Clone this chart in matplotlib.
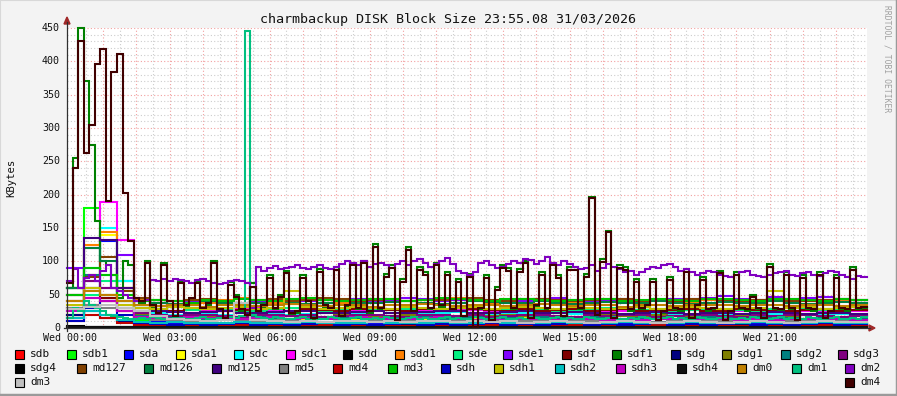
import numpy as np
import matplotlib
matplotlib.use("Agg")
from matplotlib import pyplot as plt
from matplotlib.patches import Rectangle, Polygon
from matplotlib.lines import Line2D

W, H = 897, 396
MONO = "DejaVu Sans Mono"

title = "charmbackup DISK Block Size 23:55.08 31/03/2026"
ylabel = "KBytes"
tick_labels = ["Wed 00:00", "Wed 03:00", "Wed 06:00", "Wed 09:00",
               "Wed 12:00", "Wed 15:00", "Wed 18:00", "Wed 21:00"]
tick_minutes = [5, 185, 365, 545, 725, 905, 1085, 1265]  # minutes after 23:55

# 30-minute samples (48 per day) for the quieter devices
sdb = [20, 35, 40, 25, 8, 5, 4, 3, 4, 5, 3, 4,
       5, 4, 3, 4, 5, 4, 3, 4, 5, 6, 4, 3,
       4, 5, 4, 3, 5, 4, 3, 4, 5, 4, 3, 4,
       5, 4, 3, 4, 5, 4, 3, 4, 5, 4, 3, 4]
sdb1 = [60, 180, 80, 40, 12, 8, 7, 6, 8, 7, 6, 8,
        7, 6, 8, 7, 6, 7, 8, 6, 7, 8, 6, 7,
        8, 6, 7, 8, 7, 6, 8, 7, 6, 7, 8, 6,
        7, 8, 6, 7, 8, 7, 6, 8, 7, 6, 7, 8]
sda = [15, 60, 130, 70, 20, 10, 8, 6, 7, 6, 8, 5,
       6, 7, 6, 5, 6, 7, 6, 5, 6, 7, 8, 6,
       5, 6, 7, 6, 5, 6, 7, 6, 5, 6, 7, 6,
       5, 6, 7, 6, 5, 6, 7, 6, 5, 6, 7, 6]
sda1 = [20, 80, 140, 60, 25, 15, 14, 12, 13, 15, 14, 12,
        16, 14, 13, 15, 16, 14, 12, 13, 15, 14, 16, 15,
        13, 14, 15, 16, 14, 13, 15, 14, 13, 12, 14, 15,
        13, 14, 12, 13, 14, 15, 13, 12, 14, 13, 12, 14]
sdc = [25, 90, 150, 70, 30, 22, 20, 21, 22, 20, 23, 21,
       22, 20, 21, 23, 22, 21, 20, 22, 23, 21, 22, 24,
       22, 20, 21, 22, 23, 22, 21, 20, 22, 21, 20, 22,
       21, 20, 19, 21, 20, 22, 21, 20, 19, 20, 21, 20]
sdc1 = [30, 120, 189, 132, 45, 28, 26, 27, 25, 26, 28, 30,
        27, 26, 28, 27, 26, 25, 27, 28, 26, 27, 28, 29,
        27, 26, 25, 27, 28, 26, 25, 27, 26, 25, 24, 26,
        25, 27, 26, 24, 25, 26, 24, 25, 26, 25, 24, 25]
sdd = [3, 2, 2, 1, 1, 1, 2, 1, 1, 1, 2, 1,
       1, 1, 2, 1, 1, 1, 2, 1, 1, 1, 2, 1,
       1, 1, 2, 1, 1, 1, 2, 1, 1, 1, 2, 1,
       1, 1, 2, 1, 1, 1, 2, 1, 1, 1, 2, 1]
sdd1 = [40, 125, 144, 60, 42, 38, 40, 35, 38, 42, 45, 40,
        38, 36, 40, 42, 38, 40, 44, 42, 40, 38, 42, 45,
        40, 38, 42, 40, 44, 42, 38, 40, 42, 38, 40, 42,
        40, 38, 42, 40, 38, 42, 40, 38, 40, 42, 40, 38]
sde = [20, 50, 70, 40, 30, 28, 25, 27, 30, 28, 26, 25,
       28, 30, 27, 26, 28, 30, 29, 27, 28, 30, 27, 26,
       28, 27, 29, 30, 28, 26, 27, 28, 30, 29, 27, 28,
       26, 27, 29, 28, 27, 26, 28, 30, 29, 27, 28, 27]
sde1 = [90, 70, 60, 110, 40, 38, 36, 40, 42, 38, 36, 40,
        42, 44, 40, 38, 42, 44, 40, 42, 45, 43, 40, 42,
        44, 40, 42, 41, 43, 45, 42, 40, 42, 44, 40, 42,
        44, 43, 45, 48, 44, 42, 46, 44, 45, 47, 44, 42]
sdf = [50, 60, 45, 40, 30, 28, 25, 30, 28, 26, 27, 28,
       30, 25, 28, 27, 26, 28, 30, 27, 25, 28, 26, 30,
       28, 27, 25, 28, 26, 27, 28, 25, 27, 28, 26, 25,
       27, 28, 26, 25, 28, 27, 26, 25, 27, 28, 26, 27]
sdg = [20, 25, 15, 10, 6, 5, 4, 5, 6, 5, 4, 5,
       6, 5, 4, 5, 7, 5, 4, 5, 6, 5, 4, 6,
       5, 5, 4, 5, 6, 5, 4, 5, 6, 5, 4, 5,
       6, 5, 4, 5, 6, 4, 4, 5, 6, 5, 4, 5]
sdg1 = [30, 45, 40, 25, 20, 18, 17, 19, 18, 16, 17, 18,
        20, 18, 17, 16, 19, 18, 17, 18, 19, 20, 17, 18,
        16, 18, 19, 18, 17, 18, 16, 18, 19, 18, 17, 19,
        18, 18, 17, 16, 19, 18, 17, 18, 19, 17, 17, 18]
sdg2 = [60, 80, 50, 30, 18, 16, 15, 16, 14, 15, 17, 16,
        15, 14, 16, 15, 17, 15, 14, 16, 15, 16, 14, 15,
        17, 16, 15, 14, 16, 15, 17, 16, 15, 14, 15, 16,
        14, 15, 16, 15, 14, 16, 15, 15, 14, 16, 15, 14]
sdg3 = [50, 70, 60, 35, 22, 19, 18, 20, 19, 18, 17, 19,
        20, 18, 19, 17, 18, 20, 19, 18, 17, 19, 20, 18,
        19, 17, 18, 19, 20, 18, 17, 19, 18, 20, 19, 17,
        18, 19, 20, 18, 17, 19, 18, 19, 20, 18, 17, 18]
sdg4 = [2, 1, 1, 1, 1, 1, 1, 1, 1, 1, 1, 1,
        1, 1, 1, 1, 1, 1, 1, 1, 1, 1, 1, 1,
        1, 1, 1, 1, 1, 1, 1, 1, 1, 1, 1, 1,
        1, 1, 1, 1, 1, 1, 1, 1, 1, 1, 1, 1]
md127 = [60, 77, 107, 55, 45, 42, 40, 42, 44, 40, 38, 42,
         44, 40, 42, 45, 43, 40, 42, 44, 40, 38, 42, 44,
         45, 42, 40, 43, 44, 42, 40, 42, 44, 43, 40, 42,
         41, 43, 44, 42, 40, 42, 43, 41, 40, 42, 43, 42]
md126 = [60, 120, 100, 60, 40, 38, 36, 38, 40, 38, 36, 38,
         40, 38, 36, 38, 40, 38, 37, 39, 40, 38, 36, 38,
         40, 39, 37, 38, 40, 38, 36, 38, 39, 37, 38, 40,
         38, 36, 38, 39, 37, 38, 40, 38, 36, 38, 39, 38]
md125 = [40, 135, 132, 60, 30, 25, 24, 22, 24, 25, 23, 22,
         24, 26, 25, 23, 22, 24, 25, 23, 22, 24, 26, 25,
         23, 22, 24, 25, 23, 22, 24, 23, 22, 21, 23, 24,
         22, 21, 23, 22, 21, 23, 24, 22, 21, 23, 22, 21]
md5 = [30, 35, 30, 25, 15, 12, 10, 11, 10, 12, 11, 10,
       12, 11, 10, 9, 11, 10, 12, 11, 10, 9, 11, 10,
       12, 11, 10, 11, 10, 9, 11, 10, 12, 11, 10, 9,
       11, 10, 12, 11, 10, 9, 11, 10, 12, 11, 10, 11]
md4 = [10, 20, 15, 8, 5, 4, 5, 4, 3, 4, 5, 4,
       3, 4, 5, 4, 3, 4, 5, 4, 3, 4, 5, 4,
       3, 4, 5, 4, 3, 4, 5, 4, 3, 4, 5, 4,
       3, 4, 5, 4, 3, 4, 5, 4, 3, 4, 5, 4]
md3 = [50, 90, 80, 50, 40, 42, 40, 38, 42, 40, 44, 42,
       40, 43, 45, 42, 40, 42, 44, 43, 40, 42, 45, 44,
       42, 40, 43, 44, 42, 40, 42, 44, 43, 41, 42, 44,
       42, 40, 43, 44, 42, 41, 43, 44, 42, 40, 43, 42]
sdh = [10, 30, 40, 20, 8, 6, 5, 6, 5, 6, 7, 5,
       6, 5, 6, 7, 5, 6, 5, 6, 7, 5, 6, 5,
       6, 7, 5, 6, 5, 6, 7, 5, 6, 5, 6, 7,
       5, 6, 5, 6, 7, 5, 6, 5, 6, 7, 5, 6]
sdh1 = [35, 60, 50, 35, 30, 29, 31, 30, 28, 30, 31, 29,
        30, 55, 31, 29, 30, 32, 30, 29, 31, 30, 28, 30,
        31, 29, 30, 32, 30, 29, 31, 30, 28, 30, 31, 29,
        30, 32, 30, 29, 31, 30, 55, 30, 31, 29, 30, 31]
sdh2 = [15, 25, 20, 12, 9, 8, 9, 8, 7, 8, 9, 8,
        7, 8, 9, 8, 7, 8, 9, 8, 7, 8, 9, 8,
        8, 9, 8, 7, 8, 9, 8, 7, 8, 9, 8, 7,
        8, 9, 8, 7, 8, 9, 8, 7, 8, 9, 8, 8]
sdh3 = [25, 45, 40, 25, 16, 15, 14, 16, 15, 14, 13, 15,
        16, 14, 15, 13, 14, 16, 15, 14, 13, 15, 16, 14,
        12, 13, 12, 14, 13, 12, 13, 14, 12, 13, 12, 14,
        13, 12, 13, 14, 12, 13, 12, 14, 13, 12, 13, 12]
sdh4 = [1, 1, 1, 1, 1, 1, 1, 1, 1, 1, 1, 1,
        1, 1, 1, 1, 1, 1, 1, 1, 1, 1, 1, 1,
        1, 1, 1, 1, 1, 1, 1, 1, 1, 1, 1, 1,
        1, 1, 1, 1, 1, 1, 1, 1, 1, 1, 1, 1]
dm0 = [40, 55, 50, 40, 34, 33, 35, 34, 32, 34, 35, 33,
       34, 36, 34, 33, 35, 34, 32, 34, 35, 36, 34, 33,
       35, 34, 33, 35, 36, 34, 33, 35, 34, 32, 34, 35,
       33, 34, 35, 34, 33, 35, 34, 33, 35, 34, 33, 34]
dm3 = [28, 32, 35, 30, 25, 18, 14, 12, 11, 12, 37, 12,
       10, 9, 10, 9, 10, 11, 9, 10, 9, 10, 11, 9,
       10, 9, 10, 8, 9, 10, 9, 8, 9, 10, 9, 8,
       9, 10, 9, 8, 9, 10, 9, 8, 9, 10, 9, 9]

# 10-minute samples (144 per day) for the busy devices
sdf1 = [60, 255, 450, 370, 275, 160, 100, 95, 60, 45, 100, 95,
        40, 38, 101, 32, 20, 98, 36, 16, 71, 32, 42, 71,
        28, 35, 101, 25, 14, 69, 50, 25, 18, 67, 22, 32,
        79, 28, 50, 86, 20, 22, 79, 36, 14, 88, 32, 28,
        91, 16, 32, 98, 28, 101, 22, 126, 28, 81, 94, 10,
        73, 121, 22, 91, 84, 28, 98, 32, 84, 25, 73, 16,
        81, 2, 28, 79, 10, 61, 94, 90, 28, 88, 101, 13,
        32, 84, 28, 98, 79, 16, 91, 91, 28, 81, 197, 18,
        103, 146, 13, 94, 91, 25, 73, 28, 32, 73, 10, 22,
        76, 28, 25, 88, 13, 32, 76, 25, 28, 86, 10, 22,
        84, 28, 25, 50, 28, 13, 96, 28, 25, 84, 28, 10,
        79, 28, 25, 84, 13, 22, 79, 28, 25, 91, 28, 30]
dm1 = [15, 30, 25, 40, 35, 30, 25, 20, 18, 16, 15, 14,
       13, 15, 14, 16, 15, 13, 14, 16, 15, 14, 13, 15,
       16, 14, 13, 15, 14, 16, 15, 18, 445, 20, 16, 15,
       14, 16, 15, 14, 13, 15, 16, 14, 15, 13, 14, 16,
       15, 14, 13, 15, 16, 14, 13, 15, 14, 16, 15, 14,
       13, 15, 16, 14, 15, 14, 13, 15, 16, 14, 15, 13,
       14, 16, 15, 14, 13, 15, 16, 14, 13, 15, 14, 16,
       15, 14, 13, 15, 16, 14, 15, 13, 14, 16, 15, 14,
       13, 15, 16, 14, 13, 15, 14, 16, 15, 14, 13, 15,
       16, 14, 15, 13, 14, 16, 15, 14, 13, 15, 16, 14,
       13, 15, 14, 16, 15, 14, 13, 15, 16, 14, 15, 13,
       14, 16, 15, 14, 13, 15, 16, 14, 13, 15, 14, 16]
dm2 = [70, 88, 60, 75, 80, 70, 85, 95, 60, 55, 50, 45,
       40, 40, 42, 72, 70, 73, 71, 74, 72, 70, 68, 72,
       74, 70, 68, 66, 68, 70, 72, 70, 68, 30, 92, 85,
       90, 93, 88, 90, 92, 95, 90, 88, 92, 94, 90, 88,
       92, 96, 100, 98, 95, 100, 92, 96, 98, 94, 90, 96,
       100, 95, 100, 104, 98, 92, 96, 100, 105, 96, 86, 82,
       80, 84, 98, 100, 94, 90, 92, 96, 100, 98, 104, 102,
       96, 100, 106, 98, 94, 100, 96, 92, 88, 90, 94, 86,
       90, 96, 92, 88, 84, 86, 80, 84, 88, 92, 90, 94,
       96, 92, 86, 88, 84, 80, 82, 86, 84, 80, 78, 76,
       80, 84, 86, 80, 78, 76, 80, 82, 84, 86, 80, 78,
       82, 84, 80, 78, 82, 86, 84, 80, 76, 74, 78, 76]
dm4 = [68, 240, 430, 262, 305, 396, 418, 190, 384, 411, 203, 130,
       45, 40, 97, 35, 22, 94, 40, 18, 67, 35, 45, 67,
       30, 38, 97, 28, 15, 65, 47, 28, 20, 62, 25, 35,
       75, 30, 47, 82, 22, 25, 75, 40, 15, 84, 35, 30,
       87, 18, 35, 94, 30, 97, 25, 122, 30, 77, 90, 12,
       69, 117, 25, 87, 80, 30, 94, 35, 80, 28, 69, 18,
       77, 0, 30, 75, 12, 57, 90, 86, 30, 84, 97, 15,
       35, 80, 30, 94, 75, 18, 87, 87, 30, 77, 195, 20,
       99, 144, 15, 90, 87, 28, 69, 30, 35, 69, 12, 25,
       72, 30, 28, 84, 15, 35, 72, 28, 30, 82, 12, 25,
       80, 30, 28, 47, 30, 15, 92, 30, 28, 80, 30, 12,
       75, 30, 28, 80, 15, 25, 75, 30, 28, 87, 30, 32]

series = [
    ("sdb", "#FF0000", sdb), ("sdb1", "#00FF00", sdb1), ("sda", "#0000FF", sda),
    ("sda1", "#FFFF00", sda1), ("sdc", "#00FFFF", sdc), ("sdc1", "#FF00FF", sdc1),
    ("sdd", "#000000", sdd), ("sdd1", "#FF8000", sdd1), ("sde", "#00F080", sde),
    ("sde1", "#8000FF", sde1), ("sdf", "#800000", sdf), ("sdf1", "#008000", sdf1),
    ("sdg", "#000080", sdg), ("sdg1", "#808000", sdg1), ("sdg2", "#008080", sdg2),
    ("sdg3", "#800080", sdg3), ("sdg4", "#000000", sdg4), ("md127", "#804000", md127),
    ("md126", "#008040", md126), ("md125", "#400080", md125), ("md5", "#808080", md5),
    ("md4", "#C00000", md4), ("md3", "#00C000", md3), ("sdh", "#0000C0", sdh),
    ("sdh1", "#C0C000", sdh1), ("sdh2", "#00C0C0", sdh2), ("sdh3", "#C000C0", sdh3),
    ("sdh4", "#101010", sdh4), ("dm0", "#C08000", dm0), ("dm1", "#00C080", dm1),
    ("dm2", "#8000C0", dm2), ("dm3", "#C0C0C0", dm3), ("dm4", "#400000", dm4),
]

# legend layout: (row y, swatch x) in pixels
legend_pos = [
    (354, 15), (354, 67), (354, 124), (354, 176), (354, 234), (354, 286), (354, 343), (354, 395),
    (354, 453), (354, 503), (354, 562), (354, 612), (354, 671), (354, 722), (354, 781), (354, 838),
    (368, 15), (368, 77), (368, 144), (368, 212), (368, 279), (368, 333), (368, 388), (368, 441),
    (368, 494), (368, 555), (368, 616), (368, 677), (368, 737), (368, 792), (368, 845),
    (382, 15), (382, 845),
]


def fx(x):
    return x / W


def fy(y):
    return 1 - y / H


fig = plt.figure(figsize=(W / 100, H / 100), dpi=100, facecolor="#F3F3F3")
ax = fig.add_axes([fx(67), fy(328), 800 / W, 300 / H])
ax.set_facecolor("white")
ax.set_xlim(0, 1440)
ax.set_ylim(0, 450)
for s in ax.spines.values():
    s.set_visible(False)
ax.tick_params(length=0, labelleft=False, labelbottom=False)

dots = (0, (1, 2))
for m in range(35, 1440, 30):
    major = (m - 5) % 60 == 0
    ax.axvline(m, color="#F2A0A0" if major else "#CDCDCD", lw=0.8, ls=dots, zorder=0)
for v in range(10, 451, 10):
    ax.axhline(v, color="#F2A0A0" if v % 50 == 0 else "#CDCDCD", lw=0.8, ls=dots, zorder=0)

for i, (name, color, vals) in enumerate(series):
    n = len(vals)
    xs = np.arange(n + 1) * (1440 / n)
    ys = np.append(vals, vals[-1])
    ax.step(xs, ys, where="post", color=color, lw=1.5, zorder=2 + i * 0.01,
            solid_joinstyle="miter", clip_on=False)

# axes with arrows
axis_col = "#303030"
arrow_col = "#A02828"
fig.add_artist(Line2D([fx(64), fx(870)], [fy(328), fy(328)], color=axis_col, lw=0.9))
fig.add_artist(Line2D([fx(67), fx(67)], [fy(331), fy(22)], color=axis_col, lw=0.9))
fig.add_artist(Polygon([[fx(869), fy(325)], [fx(875), fy(328)], [fx(869), fy(331)]],
                       closed=True, color=arrow_col, transform=fig.transFigure))
fig.add_artist(Polygon([[fx(64), fy(24)], [fx(67), fy(17)], [fx(70), fy(24)]],
                       closed=True, color=arrow_col, transform=fig.transFigure))

for lab, m in zip(tick_labels, tick_minutes):
    fig.text(fx(67 + m * 800 / 1440), fy(338), lab, ha="center", va="center",
             fontsize=7.2, family=MONO, color="#111111")
for v in range(0, 451, 50):
    fig.text(fx(60), fy(328 - v * 300 / 450), str(v), ha="right", va="center",
             fontsize=7.2, family=MONO, color="#111111")

fig.text(fx(11), fy(178), ylabel, rotation=90, ha="center", va="center",
         fontsize=7.6, family=MONO, color="#111111")
fig.text(fx(448), fy(19), title, ha="center", va="center",
         fontsize=9.6, family=MONO, color="#111111")
fig.text(fx(887), fy(59), "RRDTOOL / TOBI OETIKER", rotation=270, ha="center",
         va="center", fontsize=5.8, family=MONO, color="#A0A0A0")

for (name, color, vals), (ly, lx) in zip(series, legend_pos):
    fig.add_artist(Rectangle((fx(lx), fy(ly + 4.5)), 9 / W, 9 / H, facecolor=color,
                             edgecolor="black", lw=0.8, transform=fig.transFigure))
    fig.text(fx(lx + 15), fy(ly), name, ha="left", va="center", fontsize=8,
             family=MONO, color="#111111")

# rrdtool style frame
fig.add_artist(Line2D([0, 0, 1], [0, 1, 1], color="#D8D8D8", lw=1.5))
fig.add_artist(Line2D([0, 1, 1], [0.003, 0.003, 1], color="#9A9A9A", lw=2.5))

fig.savefig("out.png", dpi=100, facecolor=fig.get_facecolor())
